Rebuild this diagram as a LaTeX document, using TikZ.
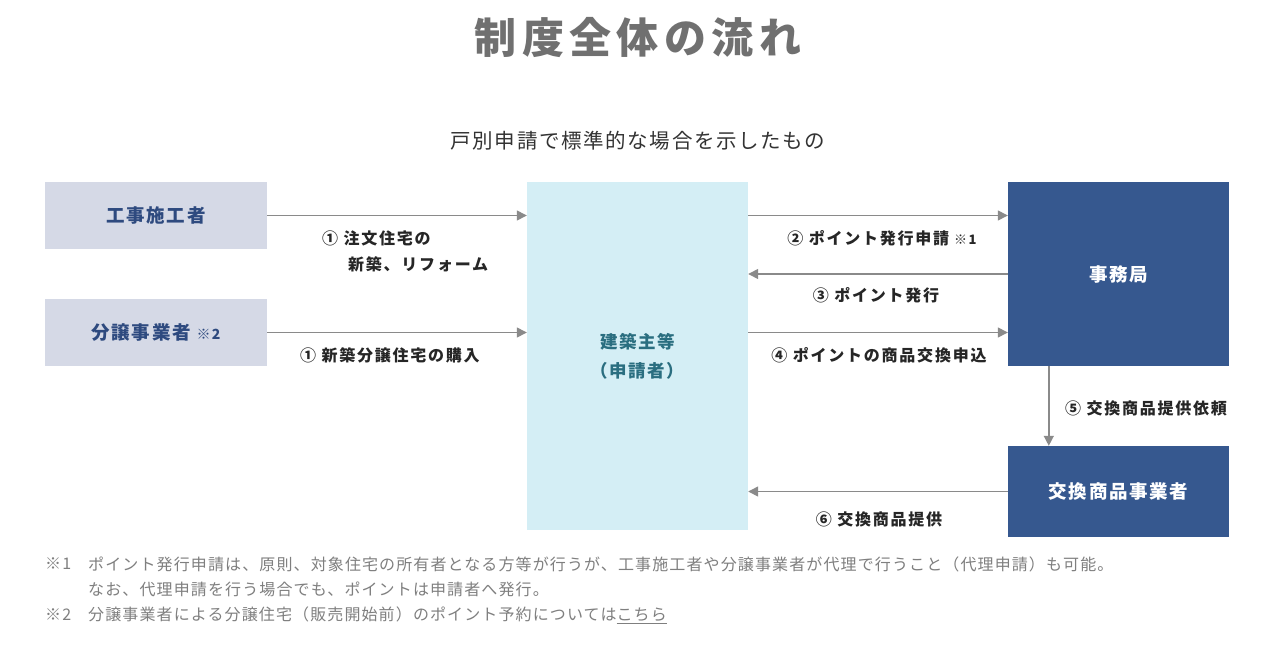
\documentclass[tikz,border=0pt]{standalone}
\usepackage{fontspec}
\usetikzlibrary{arrows.meta}
\setmainfont{Noto Sans CJK JP}
\newfontfamily\jp{Noto Sans CJK JP}[LetterSpace=8]
\newfontfamily\jpl{Noto Sans CJK JP}[LetterSpace=11]
\newfontfamily\jpn{Noto Sans CJK JP}[LetterSpace=7]
\newfontfamily\jpb{Noto Sans CJK JP}[LetterSpace=9]
\newfontfamily\jptitle{Noto Sans CJK JP}[LetterSpace=13]
\definecolor{lgray}{HTML}{D5D9E6}
\definecolor{lcyan}{HTML}{D4EEF5}
\definecolor{navy}{HTML}{36588F}
\definecolor{navytext}{HTML}{2E4A7F}
\definecolor{tealtext}{HTML}{2A6E80}
\definecolor{arrgray}{HTML}{8A8A8A}
\definecolor{titlegray}{HTML}{707070}
\definecolor{notegray}{HTML}{7F7F7F}
\begin{document}
\begin{tikzpicture}[x=1pt,y=-1pt,
  box/.style={draw=none,inner sep=0pt,align=center,font=\jpb\bfseries\fontsize{18.5}{22}\selectfont},
  sidebox/.style={box,fill=lgray,text=navytext,minimum width=222pt,minimum height=67pt},
  darkbox/.style={box,fill=navy,text=white,minimum width=221pt},
  arr/.style={draw=arrgray,line width=1.4pt,-{Triangle[length=10pt,width=10pt]}},
  lbl/.style={inner sep=0pt,text=black!85,font=\jpl\bfseries\fontsize{16}{19}\selectfont},
  note/.style={inner sep=0pt,anchor=west,text=notegray,font=\jpn\fontsize{16}{19}\selectfont}]
\useasboundingbox (0,0) rectangle (1280,648);
\fill[white] (0,0) rectangle (1280,648);
% titles
\node[inner sep=0pt,text=titlegray,font=\jptitle\bfseries\fontsize{42}{50}\selectfont] (title) at (638,38) {制度全体の流れ};
\node[inner sep=0pt,text=black!80,font=\jp\fontsize{20.5}{25}\selectfont] (sub) at (638,141) {戸別申請で標準的な場合を示したもの};
% boxes
\node[sidebox] (k1) at (156,215.5) {工事施工者};
\node[sidebox] (k2) at (156,332.5) {分譲事業者\hspace{6pt}{\fontsize{14}{16}\selectfont ※2}};
\node[box,fill=lcyan,text=tealtext,minimum width=221pt,minimum height=348pt,font=\jp\bfseries\fontsize{17.5}{29}\selectfont] (ctr) at (637.5,356) {建築主等\\（申請者）};
\node[darkbox,minimum height=184pt] (jim) at (1118.5,274) {事務局};
\node[darkbox,minimum height=91pt] (kou) at (1118.5,491.5) {交換商品事業者};
% arrows
\draw[arr] (k1.east) -- (k1.east -| ctr.west);
\draw[arr] (k2.east) -- (k2.east -| ctr.west);
\draw[arr] (k1.east -| ctr.east) -- (k1.east -| jim.west);
\draw[arr] (jim.west) -- (jim.west -| ctr.east);
\draw[arr] (k2.east -| ctr.east) -- (k2.east -| jim.west);
\coordinate (vtop) at ([xshift=41pt]jim.south west);
\draw[arr] (vtop) -- (vtop |- kou.north);
\draw[arr] (kou.west) -- (kou.west -| ctr.east);
% labels
\node[lbl,anchor=west] (l1a) at (322,238) {① 注文住宅の};
\node[lbl,anchor=west] (l1b) at (348,264) {新築、リフォーム};
\node[lbl,anchor=west] (l1c) at (300,355) {① 新築分譲住宅の購入};
\node[lbl] (l2) at (882,238) {② ポイント発行申請\hspace{5pt}{\fontsize{13}{15}\selectfont ※1}};
\node[lbl] (l3) at (876,295) {③ ポイント発行};
\node[lbl] (l4) at (879,355) {④ ポイントの商品交換申込};
\node[lbl,anchor=west] (l5) at (1065,408) {⑤ 交換商品提供依頼};
\node[lbl] (l6) at (879,519) {⑥ 交換商品提供};
% notes
\node[note] (n1m) at (45,564) {※1};
\node[note] (n1) at (88,564) {ポイント発行申請は、原則、対象住宅の所有者となる方等が行うが、工事施工者や分譲事業者が代理で行うこと（代理申請）も可能。};
\node[note] (n1b) at (88,589) {なお、代理申請を行う場合でも、ポイントは申請者へ発行。};
\node[note] (n2m) at (45,615) {※2};
\node[note] (n2) at (88,615) {分譲事業者による分譲住宅（販売開始前）のポイント予約については\underline{こちら}};
\end{tikzpicture}
\end{document}
